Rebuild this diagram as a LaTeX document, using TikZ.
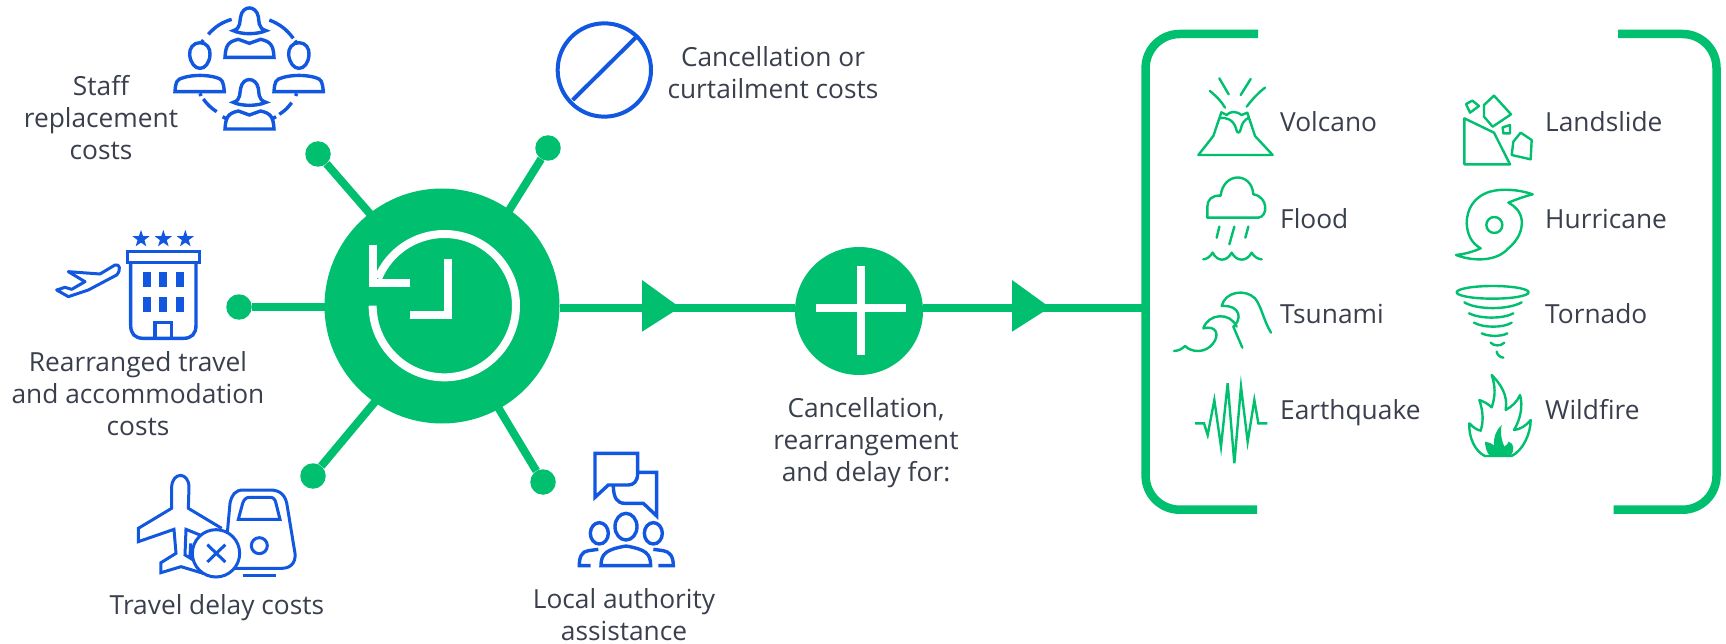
\documentclass[tikz,border=0pt]{standalone}
\usepackage{fontspec}
\setmainfont{Open Sans}
\usetikzlibrary{shapes.geometric}
\definecolor{grn}{HTML}{00BF6F}
\definecolor{blu}{HTML}{1257E0}
\definecolor{txt}{HTML}{3A3F4D}
\tikzset{
  lbl/.style={text=txt,inner sep=0pt,font=\fontsize{26.3}{32}\selectfont,align=center},
  sid/.style={text=txt,inner sep=0pt,font=\fontsize{26.3}{32}\selectfont,anchor=base west},
  spoke/.style={draw=grn,line width=8pt,shorten >=-3pt},
  dotnode/.style={circle,fill=grn,inner sep=0pt,minimum size=25.5pt},
  bicon/.style={draw=blu,line width=3.4pt,line join=miter},
  gicon/.style={draw=grn,line width=2.4pt,line join=round},
  wht/.style={draw=white,line width=8pt},
  brk/.style={draw=grn,line width=8.5pt,rounded corners=34pt},
  starn/.style={star,star points=5,star point ratio=2.5,fill=blu,inner sep=0pt,minimum size=18pt},
  zoomed/.style={x=0.33333pt,y=-0.33333pt}
}
\begin{document}
\begin{tikzpicture}[x=1pt,y=-1pt]
\useasboundingbox (0,0) rectangle (1726,644);
\fill[white] (0,0) rectangle (1726,644);
% hub, dots
\node[circle,fill=grn,inner sep=0pt,minimum size=235pt] (hub) at (442,306) {};
\node[dotnode] (d1) at (318,154) {};
\node[dotnode] (d2) at (548,148) {};
\node[dotnode] (d3) at (239,307) {};
\node[dotnode] (d4) at (313,476) {};
\node[dotnode] (d5) at (543,482) {};
\draw[spoke] (d1) -- (hub.128.5);
\draw[spoke] (d2) -- (hub.55.2);
\draw[spoke] (d3) -- (d3 -| hub.west);
\draw[spoke] (d4) -- (hub.235.8);
\draw[spoke] (d5) -- (hub.-61.8);
% main line
\node[circle,fill=grn,inner sep=0pt,minimum size=128pt] (plus) at (859,311) {};
\coordinate (brkL) at (1146,307.5);
\draw[draw=grn,line width=8pt] (hub.east |- 0,307.5) -- (plus.west |- 0,307.5);
\draw[draw=grn,line width=8pt] (plus.east |- 0,307.5) -- (brkL);
\fill[grn] (642,280) -- (680,307.5) -- (642,331.7) -- cycle;
\fill[grn] (1012,280) -- (1050,307.5) -- (1012,331.7) -- cycle;
% plus
\draw[wht] (816,308) -- (906,308);
\draw[wht] (861,266) -- (861,355);
% clock
\begin{scope}[shift={(300,170)},zoomed]
\draw[wht] (218,407) arc[start angle=180,end angle=-157.6,radius=215];
\draw[wht] (218,225) -- (218,338) -- (330,338);
\draw[wht] (443,267) -- (443,435) -- (330,435);
\end{scope}
% bracket
\draw[brk] (1258,34) -- (1145.6,34) -- (1145.6,509.7) -- (1257,509.7);
\draw[brk] (1618,34) -- (1716.5,34) -- (1716.5,509.7) -- (1613.5,509.7);
% text
\node[lbl] (t1) at (101,118) {Staff\\replacement\\costs};
\node[lbl] (t2) at (773,73) {Cancellation or\\curtailment costs};
\node[lbl] (t3) at (138,394) {Rearranged travel\\and accommodation\\costs};
\node[lbl] (t4) at (217,608) {Travel delay costs};
\node[lbl] (t5) at (624,615) {Local authority\\assistance};
\node[lbl] (t6) at (866,443) {Cancellation,\\rearrangement\\and delay for:};
\node[sid] (v1) at (1280,131.7) {Volcano};
\node[sid] (v2) at (1280,228.5) {Flood};
\node[sid] (v3) at (1280,323.5) {Tsunami};
\node[sid] (v4) at (1280,419) {Earthquake};
\node[sid] (v5) at (1545,131.7) {Landslide};
\node[sid] (v6) at (1545,228.5) {Hurricane};
\node[sid] (v7) at (1545,323.5) {Tornado};
\node[sid] (v8) at (1545,419) {Wildfire};
% staff icon
\begin{scope}[zoomed]
\foreach \dy in {0,215}{
\begin{scope}[shift={(0pt,-\dy*0.33333pt)}]
\draw[bicon] (700,92) .. controls (725,85) and (718,60) .. (722,50) .. controls (728,15) and (768,15) .. (775,50) .. controls (778,60) and (772,85) .. (798,92) .. controls (770,104) and (725,104) .. (700,92) -- cycle;
\draw[bicon] (675,172) .. controls (677,135) and (685,125) .. (715,118) -- (748,130) -- (782,118) .. controls (812,125) and (820,135) .. (822,172) -- cycle;
\end{scope}}
\foreach \dx in {0,297}{
\begin{scope}[shift={(\dx*0.33333pt,0pt)}]
\draw[bicon] (600,128) .. controls (580,128) and (567,145) .. (569,165) .. controls (572,190) and (585,205) .. (600,205) .. controls (615,205) and (628,190) .. (630,165) .. controls (632,145) and (620,128) .. (600,128) -- cycle;
\draw[bicon] (525,275) .. controls (527,245) and (530,238) .. (550,233) .. controls (580,224) and (620,224) .. (650,233) .. controls (668,238) and (670,245) .. (673,275) -- cycle;
\end{scope}}
\draw[bicon] (625,103) to[bend left=15] (695,58);
\draw[bicon] (808,60) to[bend left=15] (880,115);
\draw[bicon] (875,308) to[bend left=10] (838,343);
\draw[bicon] (650,335) to[bend left=10] (610,297);
\draw[bicon] (610,120) -- (605,127) (885,122) -- (890,129) (600,280) -- (603,288) (890,280) -- (887,288) (668,350) -- (678,356) (828,350) -- (818,356);
\end{scope}
% hotel & plane
\begin{scope}[zoomed]
\draw[draw=blu,line width=3pt,line join=round] (205,815) -- (300,822) -- (345,795) .. controls (358,790) and (365,808) .. (350,825) -- (265,870) -- (205,890) -- (170,870) -- (195,862) -- (215,868) -- (255,845) -- cycle;
\node[starn] (s1) at (423,717) {};
\node[starn] (s2) at (490,717) {};
\node[starn] (s3) at (556,717) {};
\draw[bicon] (382,755) rectangle (598,788);
\draw[bicon] (392,790) -- (392,975) .. controls (392,1002) and (405,1015) .. (430,1015) -- (550,1015) .. controls (575,1015) and (588,1002) .. (588,975) -- (588,790);
\foreach \xx in {429,477,528}{\foreach \yy in {815,890}{
\fill[blu] (\xx,\yy) rectangle (\xx+24,\yy+45);}}
\draw[bicon] (465,1015) -- (465,968) -- (515,968) -- (515,1015);
\end{scope}
% prohibit
\begin{scope}[shift={(500,0)},zoomed]
\draw[draw=blu,line width=4pt] (313,210) circle[radius=140];
\draw[draw=blu,line width=4pt] (218,300) -- (408,112);
\end{scope}
% travel delay
\begin{scope}[shift={(0,340)},zoomed]
\draw[bicon,line width=3pt] (610,700) -- (543,680) -- (483,698) -- (483,668) -- (528,640) -- (522,568) -- (415,605) -- (415,565) -- (515,505) -- (515,440) .. controls (518,395) and (565,395) .. (567,440) -- (565,505) -- (665,565);
\draw[bicon,line width=3pt] (600,585) -- (558,568) -- (555,645) -- (580,660) (572,610) -- (570,650);
\draw[bicon,line width=3pt,fill=white] (680,600) -- (690,490) .. controls (695,465) and (705,450) .. (730,450) -- (810,450) .. controls (840,450) and (858,465) .. (862,500) -- (885,640) .. controls (888,670) and (870,685) .. (845,685) -- (700,685);
\draw[bicon,line width=3pt] (715,538) -- (728,490) .. controls (732,478) and (738,472) .. (750,472) -- (810,472) .. controls (820,472) and (826,478) .. (828,490) -- (840,538) -- cycle;
\draw[bicon,line width=3pt] (778,617) circle[radius=24];
\draw[bicon,line width=3pt] (728,705) -- (828,705);
\draw[bicon,line width=3pt,fill=white] (648,640) circle[radius=71];
\draw[bicon,line width=3pt] (622,614) -- (676,666) (676,614) -- (622,666);
\end{scope}
% local authority
\begin{scope}[shift={(500,440)},zoomed]
\draw[bicon] (285,172) -- (285,40) -- (413,40) -- (413,100) .. controls (413,125) and (400,135) .. (385,135) -- (325,135) -- cycle;
\draw[bicon] (415,97) -- (470,97) -- (470,228) -- (430,190) -- (375,190) .. controls (352,190) and (340,175) .. (340,135);
\draw[bicon] (378,260) ellipse[x radius=33,y radius=40];
\draw[bicon] (298,280) ellipse[x radius=27,y radius=32];
\draw[bicon] (460,280) ellipse[x radius=27,y radius=32];
\draw[bicon] (303,377) .. controls (303,340) and (320,328) .. (378,318) .. controls (436,328) and (452,340) .. (452,377) -- cycle;
\draw[bicon] (295,328) -- (265,332) .. controls (245,335) and (238,350) .. (238,377) -- (272,377);
\draw[bicon] (460,328) -- (490,332) .. controls (510,335) and (520,350) .. (520,377) -- (475,377);
\end{scope}
% volcano & flood
\begin{scope}[shift={(1130,60)},zoomed]
\draw[gicon,line cap=round] (268,55) -- (296,103) (362,57) -- (332,105);
\draw[gicon,line cap=round] (240,93) .. controls (260,110) and (275,125) .. (285,143);
\draw[gicon,line cap=round] (405,83) .. controls (385,98) and (365,120) .. (350,140);
\draw[gicon] (205,285) -- (428,285) -- (375,228) -- (352,158) -- (335,165) .. controls (320,153) and (300,153) .. (290,165) -- (274,157) -- (250,228) -- cycle;
\draw[gicon] (268,175) .. controls (290,170) and (310,180) .. (318,205) .. controls (320,222) and (330,222) .. (333,205) .. controls (335,190) and (345,178) .. (358,172);
\draw[gicon] (235,473) -- (385,473) .. controls (415,470) and (415,410) .. (370,403) .. controls (365,335) and (280,335) .. (272,407) .. controls (245,405) and (232,420) .. (232,440) -- (232,473) -- cycle;
\draw[gicon,line cap=round] (268,500) -- (260,533) (313,500) -- (298,553) (355,500) -- (346,533);
\draw[gicon,line cap=round] (220,598) .. controls (232,597) and (240,590) .. (248,578) .. controls (262,606) and (290,606) .. (305,578) .. controls (320,606) and (350,606) .. (365,578) .. controls (372,590) and (382,597) .. (395,598);
\end{scope}
% tsunami & quake
\begin{scope}[shift={(1130,270)},zoomed]
\draw[gicon,line cap=round] (132,243) .. controls (145,242) and (155,238) .. (165,228) .. controls (185,248) and (225,250) .. (248,222) .. controls (270,195) and (260,165) .. (220,175) .. controls (235,130) and (300,125) .. (320,170);
\draw[gicon,line cap=round] (310,170) -- (337,233);
\draw[gicon,line cap=round] (310,170) .. controls (335,150) and (335,105) .. (275,108) .. controls (285,65) and (345,55) .. (375,85) .. controls (395,110) and (400,150) .. (423,188);
\draw[gicon,line join=miter] (195,460) -- (222,460) -- (233,495) -- (253,390) -- (273,530) -- (293,340) -- (313,580) -- (333,350) -- (353,515) -- (373,390) -- (385,460) -- (412,460);
\end{scope}
% landslide & hurricane
\begin{scope}[shift={(1440,80)},zoomed]
\draw[gicon] (73,115) -- (162,158) -- (210,253) -- (73,253) -- cycle;
\draw[gicon] (162,47) -- (213,103) -- (158,140) -- (132,110) -- (132,75) -- cycle;
\draw[gicon] (78,72) -- (97,62) -- (117,78) -- (90,98) -- cycle;
\draw[gicon] (188,142) -- (210,135) -- (210,160) -- (190,160) -- cycle;
\draw[gicon] (242,158) -- (275,180) -- (272,238) -- (215,225) -- (220,185) -- cycle;
\draw[gicon] (278,343) .. controls (235,328) and (185,325) .. (150,335) .. controls (100,350) and (80,390) .. (80,430) .. controls (82,465) and (95,490) .. (122,505) .. controls (100,515) and (75,522) .. (48,525) .. controls (100,545) and (170,545) .. (205,505) .. controls (235,480) and (248,450) .. (245,420) .. controls (242,395) and (225,378) .. (205,368) .. controls (225,360) and (250,350) .. (278,343) -- cycle;
\draw[gicon] (163,435) circle[radius=24];
\end{scope}
% tornado & fire
\begin{scope}[shift={(1440,270)},zoomed]
\draw[gicon] (158,67) ellipse[x radius=108,y radius=19];
\draw[gicon,line cap=round] (73,97) .. controls (110,120) and (205,120) .. (245,97);
\draw[gicon,line cap=round] (87,130) .. controls (120,147) and (190,147) .. (220,130);
\draw[gicon,line cap=round] (102,158) .. controls (130,174) and (190,174) .. (215,158);
\draw[gicon,line cap=round] (125,190) .. controls (145,200) and (185,200) .. (202,190);
\draw[gicon,line cap=round] (152,218) .. controls (162,229) and (182,229) .. (193,218);
\draw[gicon,line cap=round] (170,245) .. controls (172,255) and (180,262) .. (190,263);
\draw[gicon] (155,315) .. controls (180,340) and (205,375) .. (197,420) .. controls (215,410) and (232,395) .. (240,375) .. controls (250,410) and (240,450) .. (222,480) .. controls (240,478) and (258,468) .. (272,450) .. controls (272,490) and (250,540) .. (215,558) -- (135,558) .. controls (105,545) and (85,500) .. (88,460) .. controls (100,472) and (110,480) .. (122,482) .. controls (132,450) and (128,420) .. (118,390) .. controls (132,395) and (145,402) .. (155,412) .. controls (168,375) and (165,345) .. (155,315) -- cycle;
\fill[grn] (135,515) .. controls (145,516) and (155,520) .. (162,526) .. controls (160,500) and (170,478) .. (185,465) .. controls (180,490) and (185,512) .. (193,530) .. controls (200,525) and (205,520) .. (206,515) .. controls (225,520) and (222,545) .. (212,558) -- (150,558) .. controls (140,548) and (135,530) .. (135,515) -- cycle;
\end{scope}
\end{tikzpicture}
\end{document}
